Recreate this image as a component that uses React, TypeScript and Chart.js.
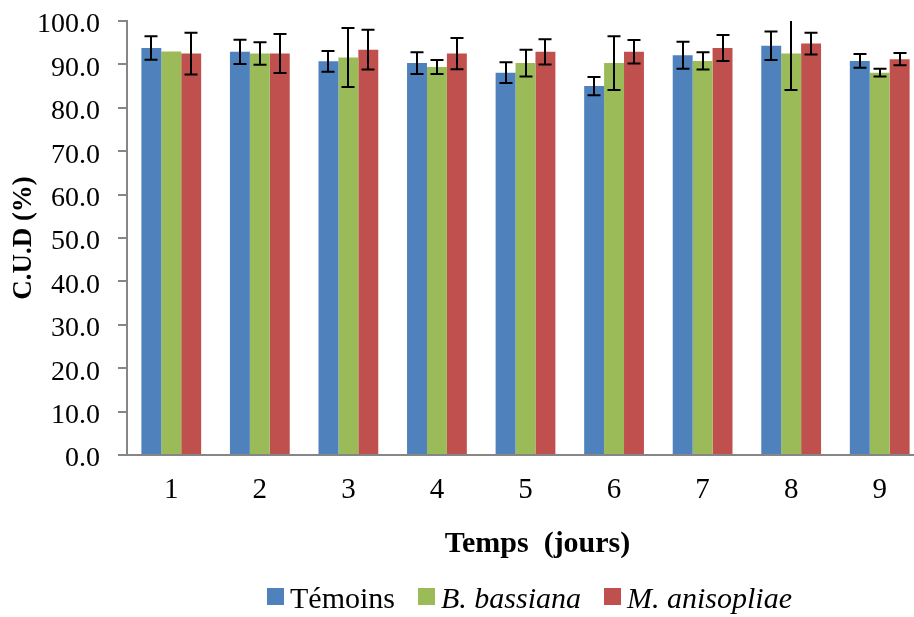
import React, { useEffect, useRef } from "react";
import { Chart, registerables } from "chart.js";

Chart.register(...registerables);

const categories = ["1", "2", "3", "4", "5", "6", "7", "8", "9"];
const temoins = [93.8, 92.9, 90.7, 90.3, 88.1, 85.0, 92.1, 94.3, 90.8];
const temoinsErr = [2.7, 2.8, 2.4, 2.5, 2.4, 2.1, 3.1, 3.3, 1.6];
const bassiana = [93.0, 92.5, 91.6, 89.4, 90.3, 90.3, 90.8, 92.5, 88.1];
const bassianaErr = [0, 2.6, 6.8, 1.6, 3.1, 6.2, 2.0, 8.4, 0.9];
const anisopliae = [92.5, 92.5, 93.4, 92.5, 92.9, 92.9, 93.8, 94.8, 91.2];
const anisopliaeErr = [4.8, 4.5, 4.6, 3.6, 2.9, 2.7, 3.0, 2.5, 1.4];

const seriesNames = ["Témoins", "B. bassiana", "M. anisopliae"];
const seriesItalic = [false, true, true];
const seriesColors = ["#4F81BD", "#9BBB59", "#C0504D"];
const xTitle = "Temps  (jours)";
const yTitle = "C.U.D (%)";

const FONT = "'Liberation Serif', 'Times New Roman', serif";

const errorBarPlugin = {
  id: "errorBars",
  afterDatasetsDraw(chart: any) {
    const ctx = chart.ctx;
    const ca = chart.chartArea;
    const yScale = chart.scales.y;
    ctx.save();
    ctx.beginPath();
    ctx.rect(ca.left, ca.top, ca.right - ca.left, ca.bottom - ca.top);
    ctx.clip();
    ctx.strokeStyle = "#000";
    ctx.lineWidth = 2;
    chart.data.datasets.forEach((ds: any, i: number) => {
      const meta = chart.getDatasetMeta(i);
      meta.data.forEach((bar: any, j: number) => {
        const e = ds.errors[j];
        if (!e) return;
        const v = ds.data[j];
        const yT = yScale.getPixelForValue(v + e);
        const yB = yScale.getPixelForValue(v - e);
        const x = Math.round(bar.x);
        const half = 6.5;
        ctx.beginPath();
        ctx.moveTo(x, yT);
        ctx.lineTo(x, yB);
        ctx.moveTo(x - half, yT);
        ctx.lineTo(x + half, yT);
        ctx.moveTo(x - half, yB);
        ctx.lineTo(x + half, yB);
        ctx.stroke();
      });
    });
    ctx.restore();
  },
};

const textPlugin = {
  id: "customTexts",
  afterDraw(chart: any) {
    const ctx = chart.ctx;
    const ca = chart.chartArea;
    const center = (ca.left + ca.right) / 2 + 4;
    ctx.save();
    // x axis title
    ctx.fillStyle = "#000";
    ctx.font = `bold 30px ${FONT}`;
    ctx.textAlign = "center";
    ctx.textBaseline = "alphabetic";
    ctx.fillText(xTitle, center + 8, 552);

    // legend
    const size = 30;
    const box = 17;
    const gapBoxText = 6;
    const gapItems = 23;
    const widths = seriesNames.map((n, i) => {
      ctx.font = `${seriesItalic[i] ? "italic " : ""}${size}px ${FONT}`;
      return box + gapBoxText + ctx.measureText(n).width;
    });
    const total = widths.reduce((a, b) => a + b, 0) + gapItems * (widths.length - 1);
    let x = center - total / 2;
    seriesNames.forEach((n, i) => {
      ctx.fillStyle = seriesColors[i];
      ctx.fillRect(x, 588, box, box);
      ctx.fillStyle = "#000";
      ctx.font = `${seriesItalic[i] ? "italic " : ""}${size}px ${FONT}`;
      ctx.textAlign = "left";
      ctx.fillText(n, x + box + gapBoxText, 608);
      x += widths[i] + gapItems;
    });
    ctx.restore();
  },
};

export default function App() {
  const ref = useRef<HTMLCanvasElement>(null);
  useEffect(() => {
    if (!ref.current) return;
    const errs = [temoinsErr, bassianaErr, anisopliaeErr];
    const vals = [temoins, bassiana, anisopliae];
    const chart = new Chart(ref.current, {
      type: "bar",
      data: {
        labels: categories,
        datasets: seriesNames.map((name, i) => ({
          label: name,
          data: vals[i],
          errors: errs[i],
          backgroundColor: seriesColors[i],
          borderWidth: 0,
          categoryPercentage: 0.675,
          barPercentage: 1,
        })) as any,
      },
      options: {
        animation: false,
        responsive: false,
        devicePixelRatio: 1,
        layout: { padding: { top: 21, right: 2, bottom: 57, left: 0 } },
        plugins: {
          legend: { display: false },
          tooltip: { enabled: false },
        },
        scales: {
          x: {
            grid: { display: false, drawTicks: false, tickLength: 0 },
            border: { display: true, color: "#868686", width: 2 },
            ticks: {
              color: "#000",
              font: { family: FONT, size: 29 },
              padding: 18,
              maxRotation: 0,
            },
            title: { display: false },
            afterFit(scale: any) {
              scale.height = 105;
            },
          },
          y: {
            min: 0,
            max: 100,
            grid: {
              display: true,
              drawOnChartArea: false,
              drawTicks: true,
              tickLength: 9,
              color: "#868686",
              lineWidth: 2,
            },
            border: { display: true, color: "#868686", width: 2 },
            ticks: {
              stepSize: 10,
              color: "#000",
              font: { family: FONT, size: 28 },
              padding: 18,
              labelOffset: 4,
              callback: (v: any) => Number(v).toFixed(1),
            },
            title: {
              display: true,
              text: yTitle,
              color: "#000",
              font: { family: FONT, size: 27, weight: "bold" },
              padding: { top: 8, bottom: 0 },
            },
            afterFit(scale: any) {
              scale.width = 127;
              scale.paddingTop = 0;
              scale.paddingBottom = 0;
            },
          },
        },
      },
      plugins: [errorBarPlugin, textPlugin],
    });
    return () => chart.destroy();
  }, []);
  return (
    <div
      style={{
        position: "fixed",
        left: 0,
        top: 0,
        width: 914,
        height: 617,
        overflow: "hidden",
        background: "#fff",
      }}
    >
      <canvas ref={ref} width={926} height={617} />
    </div>
  );
}
